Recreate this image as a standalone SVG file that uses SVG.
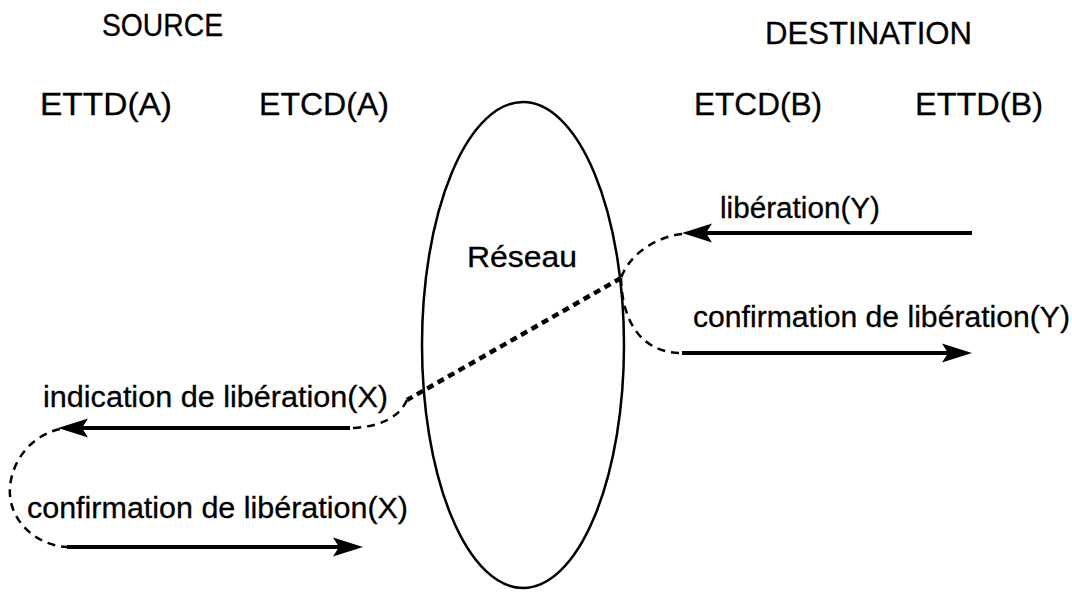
<svg xmlns="http://www.w3.org/2000/svg" width="1072" height="596" viewBox="0 0 1072 596">
  <style>
    text { font-family: "Liberation Sans", Arial, sans-serif; font-size: 29px; fill: #000; stroke: #000; stroke-width: 0.3; }
    .hd { font-size: 31px; }
    .shaft { stroke: #000; stroke-width: 4; fill: none; marker-end: url(#head); }
    .dash { stroke: #000; stroke-width: 2.5; fill: none; stroke-dasharray: 8 6; }
    .dots { stroke: #000; stroke-width: 4.5; fill: none; stroke-dasharray: 7 5; }
    .net { stroke: #000; stroke-width: 2.5; fill: none; }
  </style>
  <defs>
    <marker id="head" markerUnits="userSpaceOnUse" markerWidth="32" markerHeight="22" viewBox="0 0 32 22" refX="22" refY="11" orient="auto">
      <path d="M0,1.5 L30,11 L0,20.5 L6,11 z" fill="#000"/>
    </marker>
  </defs>
  <rect width="1072" height="596" fill="#fff"/>

  <g id="title-source"><text class="hd" x="102" y="36" textLength="121" lengthAdjust="spacingAndGlyphs">SOURCE</text></g>
  <g id="title-destination"><text class="hd" x="765" y="44" textLength="207" lengthAdjust="spacingAndGlyphs">DESTINATION</text></g>
  <g id="ettd-a"><text class="hd" x="40" y="115" textLength="132" lengthAdjust="spacingAndGlyphs">ETTD(A)</text></g>
  <g id="etcd-a"><text class="hd" x="259" y="115" textLength="130" lengthAdjust="spacingAndGlyphs">ETCD(A)</text></g>
  <g id="etcd-b"><text class="hd" x="694" y="115" textLength="128" lengthAdjust="spacingAndGlyphs">ETCD(B)</text></g>
  <g id="ettd-b"><text class="hd" x="915" y="115" textLength="128" lengthAdjust="spacingAndGlyphs">ETTD(B)</text></g>

  <g id="reseau">
    <ellipse class="net" cx="523" cy="345" rx="101" ry="243"/>
    <text x="467" y="267" textLength="110" lengthAdjust="spacingAndGlyphs">Réseau</text>
  </g>

  <g id="connectors">
    <path class="shaft" d="M972,233 L690,233"/>
    <path class="shaft" d="M682,353 L964,353"/>
    <path class="shaft" d="M350,428 L66,428"/>
    <path class="shaft" d="M67,547 L355,547"/>
    <path class="dash" d="M682,234 C660,236 630,252 621,278"/>
    <path class="dash" d="M621,278 C622,320 640,353 682,353"/>
    <path class="dots" d="M621,278 L407,400"/>
    <path class="dash" d="M407,400 Q395,426 352,428"/>
    <path class="dash" d="M60,429 C25,437 8,470 10,495 C12,525 40,546 67,547"/>
  </g>

  <g id="labels">
    <text x="720" y="218" textLength="160" lengthAdjust="spacingAndGlyphs">libération(Y)</text>
    <text x="693" y="327" textLength="377" lengthAdjust="spacingAndGlyphs">confirmation de libération(Y)</text>
    <text x="43" y="407" textLength="345" lengthAdjust="spacingAndGlyphs">indication de libération(X)</text>
    <text x="27" y="518" textLength="381" lengthAdjust="spacingAndGlyphs">confirmation de libération(X)</text>
  </g>
</svg>
